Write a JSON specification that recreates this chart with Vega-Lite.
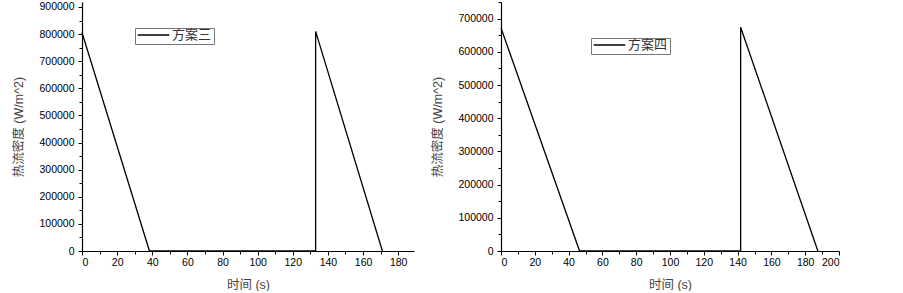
{
  "$schema": "https://vega.github.io/schema/vega-lite/v6.json",
  "background": "white",
  "padding": {"left": 12, "top": -3, "right": 0, "bottom": 0},
  "spacing": 17,
  "config": {
    "view": {"stroke": null},
    "axis": {
      "domainColor": "black",
      "domainWidth": 1.2,
      "tickColor": "black",
      "tickWidth": 1,
      "grid": false,
      "labelFont": "Liberation Sans",
      "labelFontSize": 10.5,
      "labelColor": "black",
      "labelOverlap": false,
      "titleFont": "Liberation Sans, Noto Sans CJK SC",
      "titleFontSize": 12.5,
      "titleFontWeight": "normal",
      "titleColor": "#444444"
    },
    "legend": {
      "symbolType": "stroke",
      "symbolSize": 1000,
      "symbolStrokeWidth": 1.3,
      "clipHeight": 10,
      "labelFont": "Noto Sans CJK SC",
      "labelFontSize": 13,
      "labelColor": "#333333",
      "strokeColor": "#777777",
      "fillColor": "white",
      "padding": 2,
      "labelOffset": 2,
      "cornerRadius": 0
    }
  },
  "datasets": {
    "s3": [
      {"i": 1, "t": 0, "q": 806000, "s": "方案三"},
      {"i": 2, "t": 38.4, "q": 0, "s": "方案三"},
      {"i": 3, "t": 133, "q": 0, "s": "方案三"},
      {"i": 4, "t": 133, "q": 810000, "s": "方案三"},
      {"i": 5, "t": 171, "q": 0, "s": "方案三"}
    ],
    "s4": [
      {"i": 1, "t": 0, "q": 672000, "s": "方案四"},
      {"i": 2, "t": 46.5, "q": 0, "s": "方案四"},
      {"i": 3, "t": 141.8, "q": 0, "s": "方案四"},
      {"i": 4, "t": 141.8, "q": 674000, "s": "方案四"},
      {"i": 5, "t": 187.5, "q": 0, "s": "方案四"}
    ]
  },
  "resolve": {"scale": {"stroke": "independent"}, "legend": {"stroke": "independent"}},
  "hconcat": [
    {
      "width": 332,
      "height": 249,
      "data": {"name": "s3"},
      "mark": {"type": "line", "strokeWidth": 1.3, "clip": false},
      "encoding": {
        "x": {
          "field": "t", "type": "quantitative",
          "scale": {"domain": [0, 189], "nice": false, "zero": false},
          "axis": {
            "title": "时间 (s)",
            "values": [0,10,20,30,40,50,60,70,80,90,100,110,120,130,140,150,160,170,180],
            "labelExpr": "datum.value % 20 === 0 ? datum.label : ''",
            "tickSize": {"condition": {"test": "datum.value % 20 === 0", "value": 4}, "value": 3},
            "labelPadding": 2,
            "titlePadding": 11
          }
        },
        "y": {
          "field": "q", "type": "quantitative",
          "scale": {"domain": [0, 918400], "nice": false},
          "axis": {
            "title": "热流密度 (W/m^2)",
            "values": [0,50000,100000,150000,200000,250000,300000,350000,400000,450000,500000,550000,600000,650000,700000,750000,800000,850000,900000],
            "format": "d",
            "labelExpr": "datum.value % 100000 === 0 ? datum.label : ''",
            "tickSize": {"condition": {"test": "datum.value % 100000 === 0", "value": 4}, "value": 3},
            "labelPadding": 4,
            "titlePadding": 13
          }
        },
        "order": {"field": "i", "type": "quantitative"},
        "stroke": {
          "field": "s", "type": "nominal",
          "scale": {"range": ["black"]},
          "legend": {"title": null, "orient": "none", "legendX": 53, "legendY": 26}
        }
      }
    },
    {
      "width": 338,
      "height": 249,
      "data": {"name": "s4"},
      "mark": {"type": "line", "strokeWidth": 1.3, "clip": false},
      "encoding": {
        "x": {
          "field": "t", "type": "quantitative",
          "scale": {"domain": [0, 200], "nice": false, "zero": false},
          "axis": {
            "title": "时间 (s)",
            "values": [0,10,20,30,40,50,60,70,80,90,100,110,120,130,140,150,160,170,180,190,200],
            "labelExpr": "datum.value % 20 === 0 ? datum.label : ''",
            "tickSize": {"condition": {"test": "datum.value % 20 === 0", "value": 4}, "value": 3},
            "labelPadding": 2,
            "titlePadding": 11
          }
        },
        "y": {
          "field": "q", "type": "quantitative",
          "scale": {"domain": [0, 750000], "nice": false},
          "axis": {
            "title": "热流密度 (W/m^2)",
            "values": [0,50000,100000,150000,200000,250000,300000,350000,400000,450000,500000,550000,600000,650000,700000,750000],
            "format": "d",
            "labelExpr": "datum.value % 100000 === 0 ? datum.label : ''",
            "tickSize": {"condition": {"test": "datum.value % 100000 === 0", "value": 4}, "value": 3},
            "labelPadding": 4,
            "titlePadding": 13
          }
        },
        "order": {"field": "i", "type": "quantitative"},
        "stroke": {
          "field": "s", "type": "nominal",
          "scale": {"range": ["black"]},
          "legend": {"title": null, "orient": "none", "legendX": 90, "legendY": 36}
        }
      }
    }
  ]
}
